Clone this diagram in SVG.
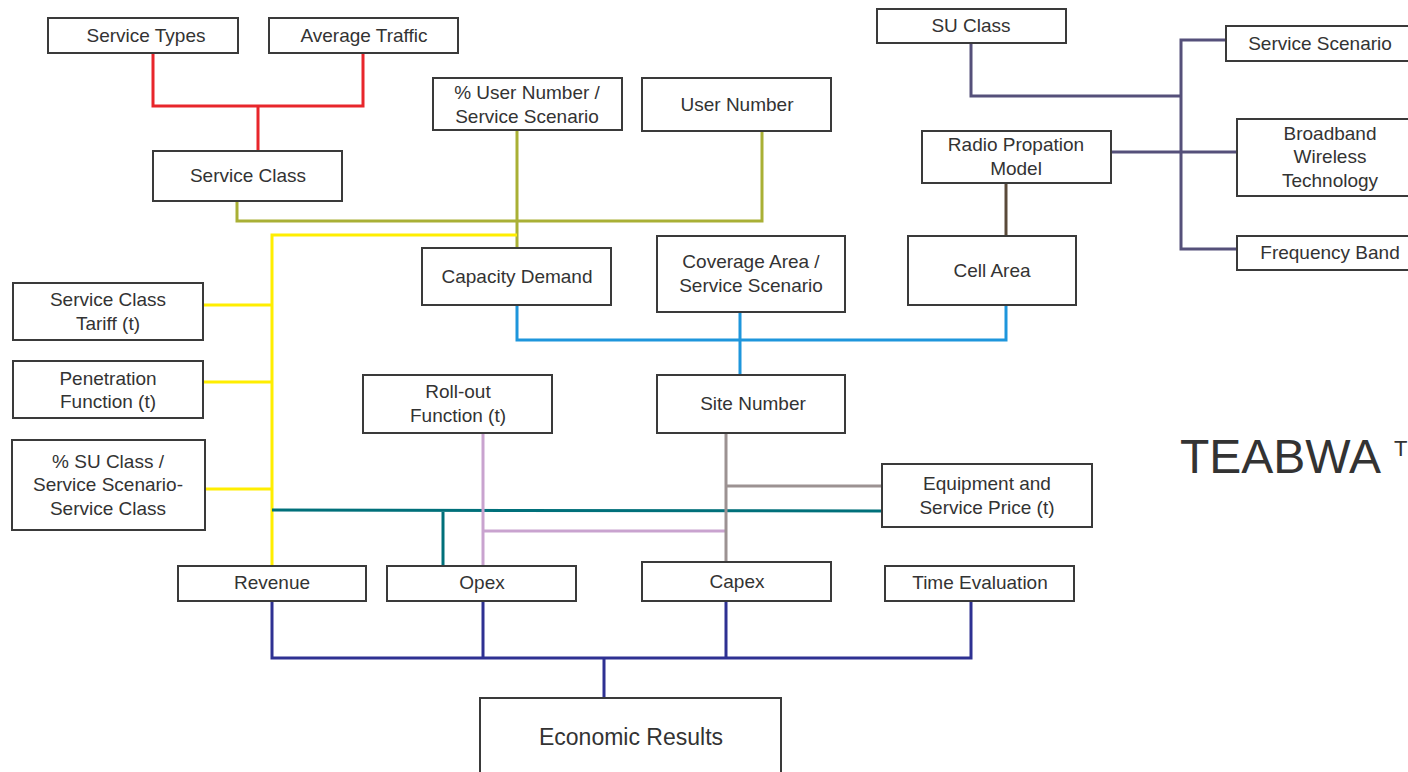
<svg xmlns="http://www.w3.org/2000/svg" width="1408" height="772" viewBox="0 0 1408 772">
<style>
.b{fill:#fff;stroke:#3a3a3a;stroke-width:2}
.t{font-family:"Liberation Sans",Arial,sans-serif;font-size:19px;fill:#333;text-anchor:middle}
.c{fill:none;stroke-width:3}
.red{stroke:#e8262b}.olv{stroke:#a9b035}.yel{stroke:#ffee00}.teal{stroke:#00707a}.pink{stroke:#c9a3cf}.gray{stroke:#9c9292}.blue{stroke:#1e96dc}.brown{stroke:#5a4a3a}.pur{stroke:#55507a}.navy{stroke:#2e3192}
</style>
<rect width="1408" height="772" fill="#fff"/>
<g id="connectors">
<path class="c red" d="M153 53V106H363V53M258 106V151"/>
<path class="c olv" d="M237 201V221H762V131M517 130V248"/>
<path class="c yel" d="M517 235H272V566M203 305H272M203 382H272M205 489H272"/>
<path class="c teal" d="M272 510L882 511M443 510V566"/>
<path class="c pink" d="M483 433V566M483 531H726"/>
<path class="c gray" d="M726 433V562M726 486H882"/>
<path class="c blue" d="M517 305V340H1006V305M740 312V375"/>
<path class="c brown" d="M1006 183V236"/>
<path class="c pur" d="M971 43V96H1181M1226 40H1181V249H1237M1111 152H1237"/>
<path class="c navy" d="M272 601V658H971V601M483 601V658M726 601V658M604 658V698"/>
</g>
<g id="service-types"><rect class="b" x="48" y="18" width="190" height="35"/><text class="t" x="146" y="42">Service Types</text></g>
<g id="average-traffic"><rect class="b" x="269" y="18" width="189" height="35"/><text class="t" x="364" y="42">Average Traffic</text></g>
<g id="service-class"><rect class="b" x="153" y="151" width="189" height="50"/><text class="t" x="248" y="182">Service Class</text></g>
<g id="pct-user-number"><rect class="b" x="433" y="78" width="189" height="52"/><text class="t" x="527" y="99">% User Number /</text><text class="t" x="527" y="123">Service Scenario</text></g>
<g id="user-number"><rect class="b" x="642" y="78" width="189" height="53"/><text class="t" x="737" y="111">User Number</text></g>
<g id="capacity-demand"><rect class="b" x="422" y="248" width="189" height="57"/><text class="t" x="517" y="283">Capacity Demand</text></g>
<g id="coverage-area"><rect class="b" x="657" y="236" width="188" height="76"/><text class="t" x="751" y="268">Coverage Area /</text><text class="t" x="751" y="292">Service Scenario</text></g>
<g id="cell-area"><rect class="b" x="908" y="236" width="168" height="69"/><text class="t" x="992" y="277">Cell Area</text></g>
<g id="radio-model"><rect class="b" x="922" y="131" width="189" height="52"/><text class="t" x="1016" y="151">Radio Propation</text><text class="t" x="1016" y="175">Model</text></g>
<g id="su-class"><rect class="b" x="877" y="9" width="189" height="34"/><text class="t" x="971" y="32">SU Class</text></g>
<g id="service-scenario"><rect class="b" x="1226" y="26" width="190" height="35"/><text class="t" x="1320" y="50">Service Scenario</text></g>
<g id="broadband"><rect class="b" x="1237" y="119" width="180" height="77"/><text class="t" x="1330" y="140">Broadband</text><text class="t" x="1330" y="163">Wireless</text><text class="t" x="1330" y="187">Technology</text></g>
<g id="frequency-band"><rect class="b" x="1237" y="236" width="180" height="34"/><text class="t" x="1330" y="259">Frequency Band</text></g>
<g id="tariff"><rect class="b" x="13" y="283" width="190" height="57"/><text class="t" x="108" y="306">Service Class</text><text class="t" x="108" y="330">Tariff (t)</text></g>
<g id="penetration"><rect class="b" x="13" y="361" width="190" height="57"/><text class="t" x="108" y="385">Penetration</text><text class="t" x="108" y="408">Function (t)</text></g>
<g id="pct-su-class"><rect class="b" x="12" y="440" width="193" height="90"/><text class="t" x="108" y="468">% SU Class /</text><text class="t" x="108" y="491">Service Scenario-</text><text class="t" x="108" y="515">Service Class</text></g>
<g id="rollout"><rect class="b" x="363" y="375" width="189" height="58"/><text class="t" x="458" y="398">Roll-out</text><text class="t" x="458" y="422">Function (t)</text></g>
<g id="site-number"><rect class="b" x="657" y="375" width="188" height="58"/><text class="t" x="753" y="410">Site Number</text></g>
<g id="equipment"><rect class="b" x="882" y="464" width="210" height="63"/><text class="t" x="987" y="490">Equipment and</text><text class="t" x="987" y="514">Service Price (t)</text></g>
<g id="revenue"><rect class="b" x="178" y="566" width="188" height="35"/><text class="t" x="272" y="589">Revenue</text></g>
<g id="opex"><rect class="b" x="387" y="566" width="189" height="35"/><text class="t" x="482" y="589">Opex</text></g>
<g id="capex"><rect class="b" x="642" y="562" width="189" height="39"/><text class="t" x="737" y="588">Capex</text></g>
<g id="time-evaluation"><rect class="b" x="885" y="566" width="189" height="35"/><text class="t" x="980" y="589">Time Evaluation</text></g>
<g id="economic-results"><rect class="b" x="480" y="698" width="301" height="80"/><text class="t" x="631" y="745" style="font-size:23px">Economic Results</text></g>
<g id="title"><text x="1180" y="473" style="font-family:'Liberation Sans',Arial,sans-serif;font-size:48px;fill:#333">TEABWA</text><text x="1394" y="456" style="font-family:'Liberation Sans',Arial,sans-serif;font-size:22px;fill:#333">T</text></g>
</svg>
